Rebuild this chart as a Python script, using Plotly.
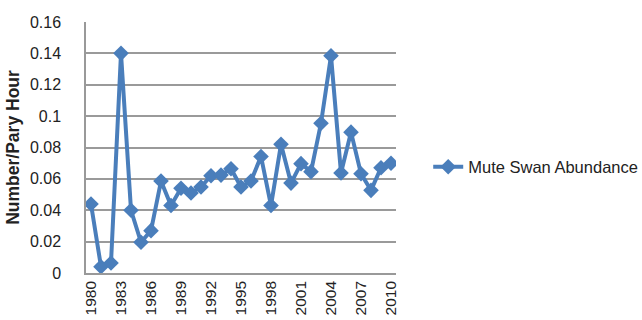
import plotly.graph_objects as go

years = list(range(1980, 2011))
abundance = [0.044, 0.004, 0.0064, 0.140, 0.040, 0.0196, 0.027, 0.0586, 0.043, 0.054,
             0.051, 0.0548, 0.062, 0.0624, 0.0665, 0.0548, 0.0586, 0.0743, 0.043, 0.082,
             0.0573, 0.0697, 0.0646, 0.0955, 0.1385, 0.0637, 0.0898, 0.0633, 0.0527, 0.0671,
             0.070]
tick_years = list(range(1980, 2011, 3))
y_ticks = [0, 0.02, 0.04, 0.06, 0.08, 0.1, 0.12, 0.14, 0.16]
y_tick_text = ["0", "0.02", "0.04", "0.06", "0.08", "0.1", "0.12", "0.14", "0.16"]

blue = "#4A7EBB"
font = "Liberation Sans"

fig = go.Figure()
fig.add_trace(go.Scatter(
    x=years, y=abundance, mode="lines+markers", name="Mute Swan Abundance",
    line=dict(color=blue, width=4),
    marker=dict(symbol="diamond", size=12, color=blue),
))

fig.update_layout(
    width=642, height=320,
    margin=dict(l=86, r=246, t=22, b=47, autoexpand=False),
    paper_bgcolor="white", plot_bgcolor="white",
    font=dict(family=font, size=16, color="#222"),
    showlegend=True,
    legend=dict(xref="container", yref="container", x=0.667, y=0.478,
                xanchor="left", yanchor="middle",
                font=dict(family=font, size=16.5, color="#222"),
                bgcolor="rgba(0,0,0,0)"),
    xaxis=dict(range=[1979.5, 2010.5], tickmode="array", tickvals=tick_years,
               ticktext=[str(y) for y in tick_years], tickangle=-90,
               tickfont=dict(size=15.5),
               showgrid=False, zeroline=False, showline=True, linecolor="#999",
               linewidth=1.5, ticks="", fixedrange=True, automargin=False),
    yaxis=dict(range=[0, 0.16], tickmode="array", tickvals=y_ticks, ticktext=y_tick_text,
               tickfont=dict(size=16),
               showgrid=True, gridcolor="#9a9a9a", gridwidth=1.5, zeroline=False,
               showline=True, linecolor="#999", linewidth=1.5, ticks="",
               ticklabelstandoff=20, automargin=False, fixedrange=True,
               title=dict(text="<b>Number/Pary Hour</b>", font=dict(size=17.5), standoff=6)),
)

fig.write_html("out.html", config={"displayModeBar": False},
               post_script="document.body.style.margin='0';")
